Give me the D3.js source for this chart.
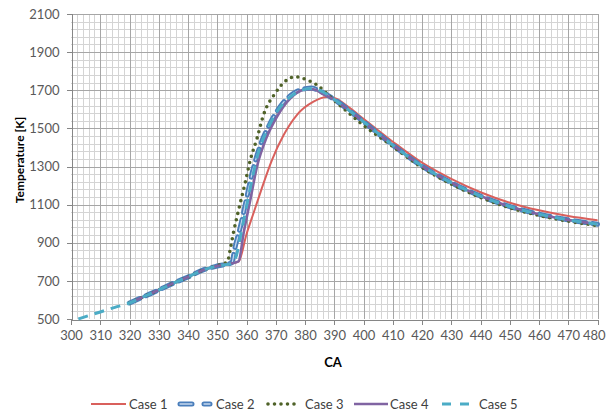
<!DOCTYPE html>
<html><head><meta charset="utf-8">
<script src="https://cdn.jsdelivr.net/npm/d3@7"></script>
<style>body{margin:0;background:#fff;} text{font-family:Lato,"Open Sans",sans-serif;}</style>
</head><body>
<svg id="c" width="606" height="419"></svg>
<script>
const xTicks = [300,310,320,330,340,350,360,370,380,390,400,410,420,430,440,450,460,470,480];
const yTicks = [500,700,900,1100,1300,1500,1700,1900,2100];
const seriesNames = ["Case 1","Case 2","Case 3","Case 4","Case 5"];

const case1CA = [320,325,330,335,340,345,350,355,357.3,360,362.5,365,368.7,372.7,377.2,382.9,387.5,390,395,400,410,420,430,440,450,460,470,480];
const case1T  = [584,618,652,688,720,756,778,792,801,945,1060,1175,1334,1465,1570,1640,1664,1660,1610,1550,1430,1320,1235,1165,1110,1070,1040,1018];

const case2CA = [320,325,330,335,340,345,350,355,356,358,360,362,364.7,368.1,371.5,376.1,380.7,382,385.2,390,395,400,410,420,430,440,450,460,470,480];
const case2T  = [584,618,652,688,720,756,778,795,870,990,1130,1270,1410,1527,1614,1684,1710,1712,1695,1652,1595,1535,1412,1302,1215,1145,1090,1050,1020,997];

const case3CA = [320,325,330,335,340,345,350,353.5,354.4,355.5,357.3,359.5,361.3,363.6,365.8,369.8,373.8,376.7,380.7,384.1,388.6,392,399,410,420,430,440,450,460,470,480];
const case3T  = [584,618,652,688,720,756,780,800,862,950,1072,1212,1334,1448,1570,1684,1754,1771,1754,1728,1666,1620,1528,1405,1295,1208,1138,1083,1043,1013,990];

const case4CA = [320,325,330,335,340,345,350,355,357.3,359,361.3,363.6,367,370.4,375,379.5,382.9,385.7,390,395,400,410,420,430,440,450,460,470,480];
const case4T  = [584,618,652,688,720,756,778,792,803,950,1124,1300,1457,1561,1658,1702,1705,1684,1650,1595,1535,1412,1302,1215,1145,1090,1050,1020,997];

const case5CA = [302.5,310,315,320,325,330,335,340,345,350,355,356.5,358,360,362,364,367,370.5,375,380,383,386,390,395,400,410,420,430,440,450,460,470,480];
const case5T  = [500,537,561,584,618,652,688,720,756,778,792,830,940,1090,1240,1370,1490,1590,1665,1705,1710,1692,1652,1595,1535,1412,1302,1215,1145,1090,1050,1020,997];

const svg = d3.select("#c");
const L=71, R=597.5, T=14, B=319;
const x = d3.scaleLinear().domain([300,480]).range([L,R]);
const y = d3.scaleLinear().domain([500,2100]).range([B,T]);

// grid
const g = svg.append("g").attr("shape-rendering","crispEdges");
g.selectAll(".vmin").data(d3.range(300,481,2).filter(v=>v%10!==0)).enter().append("line")
 .attr("x1",d=>Math.round(x(d))+0.5).attr("x2",d=>Math.round(x(d))+0.5).attr("y1",T).attr("y2",B)
 .attr("stroke","#d4d4d4").attr("stroke-width",1);
g.selectAll(".hmin").data(d3.range(500,2101,40).filter(v=>(v-500)%200!==0)).enter().append("line")
 .attr("y1",d=>Math.round(y(d))+0.5).attr("y2",d=>Math.round(y(d))+0.5).attr("x1",L).attr("x2",R)
 .attr("stroke","#d4d4d4").attr("stroke-width",1);
g.selectAll(".vmaj").data(xTicks.slice(1)).enter().append("line")
 .attr("x1",d=>Math.round(x(d))+0.5).attr("x2",d=>Math.round(x(d))+0.5).attr("y1",T).attr("y2",B)
 .attr("stroke","#a6a6a6").attr("stroke-width",1);
g.selectAll(".hmaj").data(yTicks.slice(1)).enter().append("line")
 .attr("y1",d=>Math.round(y(d))+0.5).attr("y2",d=>Math.round(y(d))+0.5).attr("x1",L).attr("x2",R)
 .attr("stroke","#a6a6a6").attr("stroke-width",1);

// axes
const xAxis = svg.append("g").attr("transform",`translate(0,${Math.round(B)+0.5})`)
 .call(d3.axisBottom(x).tickValues(xTicks).tickSize(5).tickPadding(6).tickFormat(d3.format("d")));
const yAxis = svg.append("g").attr("transform",`translate(${L+0.5},0)`)
 .call(d3.axisLeft(y).tickValues(yTicks).tickSize(5).tickPadding(7).tickFormat(d3.format("d")));
[xAxis,yAxis].forEach(a=>{
  a.select(".domain").attr("stroke","#868686").attr("shape-rendering","crispEdges");
  a.selectAll(".tick line").attr("stroke","#868686").attr("shape-rendering","crispEdges");
  a.selectAll(".tick text").attr("fill","#595959").style("font-size","13px").style("font-family","Lato,sans-serif");
});
// keep last x label inside the canvas (as the reference does)
xAxis.selectAll(".tick").filter(d=>d===480).select("text")
  .attr("text-anchor","end").attr("x",605-x(480));

svg.append("text").attr("x",333).attr("y",367).attr("text-anchor","middle")
 .style("font-size","13px").style("font-weight","bold").attr("fill","#000").text("CA");
svg.append("text").attr("transform","translate(24,160) rotate(-90)").attr("text-anchor","middle")
 .style("font-size","12px").style("font-weight","bold").attr("fill","#000").text("Temperature [K]");

const line = d3.line().x(d=>x(d[0])).y(d=>y(d[1])).curve(d3.curveMonotoneX);
const zip=(a,b)=>a.map((v,i)=>[v,b[i]]);
const plot = svg.append("g");

const styles = [
 {name:"Case 1", data:zip(case1CA,case1T), layers:[{stroke:"#d9605c",w:2}]},
 {name:"Case 2", data:zip(case2CA,case2T), layers:[{stroke:"#4a7ebb",w:5,dash:"11,7",cap:"round"},{stroke:"#c6d9f0",w:1.3,dash:"11,7",cap:"round"}]},
 {name:"Case 3", data:zip(case3CA,case3T), layers:[{stroke:"#4f6228",w:3.6,dash:"0,6.5",cap:"round"}]},
 {name:"Case 4", data:zip(case4CA,case4T), layers:[{stroke:"#8064a2",w:2.6}]},
 {name:"Case 5", data:zip(case5CA,case5T), layers:[{stroke:"#4bacc6",w:3,dash:"10,7"}]}
];
styles.forEach(s=>{
  s.layers.forEach(l=>{
    plot.append("path").datum(s.data).attr("d",line).attr("fill","none")
     .attr("stroke",l.stroke).attr("stroke-width",l.w)
     .attr("stroke-dasharray",l.dash||null).attr("stroke-linecap",l.cap||"butt")
     .attr("stroke-linejoin","round");
  });
});

// legend
const legX = [91,177,266,354,442];
const legW = [35,36,33,34,27];
const legTX = [129,216,305,390,479];
const lg = svg.append("g");
styles.forEach((s,i)=>{
  s.layers.forEach(l=>{
    let x1=legX[i], x2=legX[i]+legW[i];
    let dash=l.dash||null;
    if(i===1){ dash="12,12"; x1+=3; x2-=3; }
    if(i===4){ dash="9,9"; }
    if(i===2){ x1+=2; }
    lg.append("line").attr("x1",x1).attr("x2",x2).attr("y1",404).attr("y2",404)
      .attr("stroke",l.stroke).attr("stroke-width",l.w).attr("stroke-dasharray",dash)
      .attr("stroke-linecap",l.cap||"butt");
  });
  lg.append("text").attr("x",legTX[i]).attr("y",408.5).style("font-size","13px")
    .attr("fill","#404040").text(s.name);
});
</script>
</body></html>
